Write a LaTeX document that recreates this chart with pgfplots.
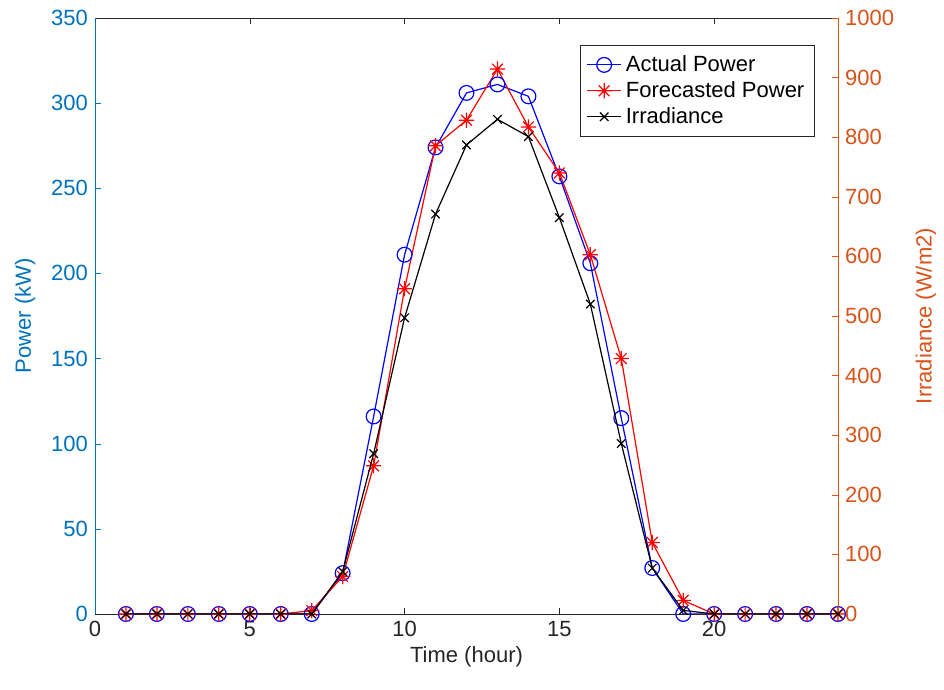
\documentclass[border=0pt]{standalone}
\usepackage{pgfplots}
\pgfplotsset{compat=1.18}
\usepackage{fontspec}
\setmainfont{Liberation Sans}

\definecolor{mlblue}{RGB}{0,114,189}
\definecolor{mlorange}{RGB}{217,83,25}
\definecolor{mlgray}{RGB}{38,38,38}

% MATLAB-like eight-spoke star
\pgfdeclareplotmark{mstar}{%
  \pgfpathmoveto{\pgfqpoint{-\pgfplotmarksize}{0pt}}%
  \pgfpathlineto{\pgfqpoint{\pgfplotmarksize}{0pt}}%
  \pgfpathmoveto{\pgfqpoint{0pt}{-\pgfplotmarksize}}%
  \pgfpathlineto{\pgfqpoint{0pt}{\pgfplotmarksize}}%
  \pgfpathmoveto{\pgfqpoint{-0.707\pgfplotmarksize}{-0.707\pgfplotmarksize}}%
  \pgfpathlineto{\pgfqpoint{0.707\pgfplotmarksize}{0.707\pgfplotmarksize}}%
  \pgfpathmoveto{\pgfqpoint{-0.707\pgfplotmarksize}{0.707\pgfplotmarksize}}%
  \pgfpathlineto{\pgfqpoint{0.707\pgfplotmarksize}{-0.707\pgfplotmarksize}}%
  \pgfusepathqstroke}

\begin{document}
\begin{tikzpicture}
  \pgfplotsset{
    common/.style={
      scale only axis,
      width=371.5pt, height=298pt,
      xmin=0, xmax=24,
      tick align=inside,
      major tick length=3pt,
      /pgf/number format/assume math mode=true,
      /pgf/number format/1000 sep={},
      tick label style={font=\fontsize{11}{13}\selectfont},
      label style={font=\fontsize{11}{13}\selectfont},
    },
  }
  % left axis: power
  \begin{axis}[
      common,
      name=main,
      ymin=0, ymax=350,
      ytick={0,50,...,350},
      xtick={0,5,...,20},
      axis y line*=left,
      axis x line*=box,
      x axis line style={mlgray},
      y axis line style={mlblue},
      x tick style={mlgray},
      y tick style={mlblue},
      xticklabel style={mlgray},
      yticklabel style={mlblue},
      xlabel={Time (hour)},
      xlabel style={mlgray, yshift=2pt},
      ylabel={Power (kW)},
      ylabel style={mlblue, yshift=1pt},
      xtick pos=both,
    ]
    % actual power
    \addplot[blue, line width=0.6pt, mark=o, mark size=3.7pt] coordinates {
      (1,0) (2,0) (3,0) (4,0) (5,0) (6,0) (7,0) (8,24) (9,116) (10,211)
      (11,274) (12,306) (13,311) (14,304) (15,257) (16,206) (17,115)
      (18,27) (19,0) (20,0) (21,0) (22,0) (23,0) (24,0)
    };
    % forecasted power
    \addplot[red, line width=0.6pt, mark=mstar, mark size=3.8pt] coordinates {
      (1,0) (2,0) (3,0) (4,0) (5,0) (6,0) (7,2) (8,22) (9,87) (10,191)
      (11,275) (12,290) (13,320) (14,286) (15,259) (16,211) (17,150)
      (18,42) (19,8) (20,0) (21,0) (22,0) (23,0) (24,0)
    };
  \end{axis}
  % right axis: irradiance
  \begin{axis}[
      common,
      ymin=0, ymax=1000,
      ytick={0,100,...,1000},
      axis y line*=right,
      axis x line=none,
      y axis line style={mlorange},
      y tick style={mlorange},
      yticklabel style={mlorange},
      ylabel={Irradiance (W/m2)},
      ylabel style={mlorange, yshift=-4pt},
      legend style={
        at={(rel axis cs:0.969,0.955)}, anchor=north east,
        draw=mlgray, line width=0.6pt,
        font=\fontsize{11}{13}\selectfont,
        row sep=-0.5pt, inner sep=3pt,
      },
      legend cell align=left,
    ]
    \addlegendimage{blue, line width=0.6pt, mark=o, mark size=3.7pt}
    \addlegendentry{Actual Power}
    \addlegendimage{red, line width=0.6pt, mark=mstar, mark size=3.8pt}
    \addlegendentry{Forecasted Power}
    \addplot[black, line width=0.6pt, mark=x, mark size=3pt] coordinates {
      (1,0) (2,0) (3,0) (4,0) (5,0) (6,0) (7,0) (8,71) (9,269) (10,497)
      (11,671) (12,787) (13,830) (14,801) (15,665) (16,520) (17,286)
      (18,77) (19,6) (20,0) (21,0) (22,0) (23,0) (24,0)
    };
    \addlegendentry{Irradiance}
  \end{axis}
  \path (main.south west) ++(-47.5pt,-38pt);
  \path (main.north east) ++(53pt,9pt);
\end{tikzpicture}
\end{document}
